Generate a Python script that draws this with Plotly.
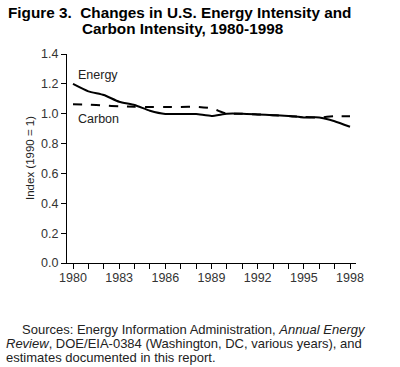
import plotly.graph_objects as go

years = list(range(1980, 1999))
energy = [1.20, 1.15, 1.125, 1.08, 1.058, 1.02, 0.998, 0.998, 0.998, 0.985, 1.0,
          1.0, 0.995, 0.99, 0.985, 0.975, 0.975, 0.95, 0.913]
carbon = [1.063, 1.06, 1.055, 1.05, 1.047, 1.045, 1.045, 1.045, 1.047, 1.036, 1.0,
          1.0, 0.995, 0.99, 0.985, 0.978, 0.975, 0.983, 0.983]
xtick_vals = [1980, 1983, 1986, 1989, 1992, 1995, 1998]
ytick_vals = [0.0, 0.2, 0.4, 0.6, 0.8, 1.0, 1.2, 1.4]

W, H = 400, 367
L, T = 67, 54
R = W - 356
B = H - 263
pw, ph = W - L - R, H - T - B

def px(x):
    return (x - L) / pw

def py(y):
    return (H - B - y) / ph

FONT = "Liberation Sans, Arial, sans-serif"

fig = go.Figure()
fig.add_trace(go.Scatter(x=years, y=energy, mode="lines", name="Energy",
                         line=dict(color="black", width=2, shape="spline", smoothing=0.5)))
fig.add_trace(go.Scatter(x=years, y=carbon, mode="lines", name="Carbon",
                         line=dict(color="black", width=2, dash="dash", shape="spline", smoothing=0.5)))

ann = []
ann.append(dict(x=1980.2, y=1.26, xref="x", yref="y", text="Energy", showarrow=False,
                xanchor="left", yanchor="middle", font=dict(size=12.5, color="#222", family=FONT)))
ann.append(dict(x=1980.2, y=0.962, xref="x", yref="y", text="Carbon", showarrow=False,
                xanchor="left", yanchor="middle", font=dict(size=12.5, color="#222", family=FONT)))
ann.append(dict(x=px(6), y=py(12.5), xref="paper", yref="paper",
                text="<b>Figure 3.  Changes in U.S. Energy Intensity and</b>", showarrow=False,
                xanchor="left", yanchor="middle", font=dict(size=15.3, color="black", family=FONT)))
ann.append(dict(x=px(80), y=py(28.5), xref="paper", yref="paper",
                text="<b>Carbon Intensity, 1980-1998</b>", showarrow=False,
                xanchor="left", yanchor="middle", font=dict(size=15.3, color="black", family=FONT)))
ann.append(dict(x=px(30), y=py(158), xref="paper", yref="paper", text="Index (1990 = 1)",
                textangle=-90, showarrow=False, xanchor="center", yanchor="middle",
                font=dict(size=11.5, color="#222", family=FONT)))
src_lines = [
    (20, 329, "Sources: Energy Information Administration, <i>Annual Energy</i>"),
    (4, 343, "<i>Review</i>, DOE/EIA-0384 (Washington, DC, various years), and"),
    (4, 357, "estimates documented in this report."),
]
for x0, y0, t in src_lines:
    ann.append(dict(x=px(x0), y=py(y0), xref="paper", yref="paper", text=t, showarrow=False,
                    xanchor="left", yanchor="middle", font=dict(size=13, color="#222", family=FONT)))

fig.update_layout(
    width=W, height=H, margin=dict(l=L, r=R, t=T, b=B),
    paper_bgcolor="white", plot_bgcolor="white", showlegend=False,
    annotations=ann,
    xaxis=dict(range=[1979.61, 1998.39], showgrid=False, zeroline=False,
               showline=True, linecolor="black", linewidth=1,
               tickmode="array", tickvals=xtick_vals, ticktext=[str(v) for v in xtick_vals],
               ticks="", ticklabelstandoff=3, tickfont=dict(size=12.5, color="#333", family=FONT),
               minor=dict(tickmode="array", tickvals=years, ticks="outside", ticklen=5,
                          tickcolor="black", tickwidth=1, showgrid=False)),
    yaxis=dict(range=[0, 1.4], showgrid=False, zeroline=False,
               showline=True, linecolor="black", linewidth=1,
               tickmode="array", tickvals=ytick_vals, ticktext=["%.1f" % v for v in ytick_vals],
               ticks="outside", ticklen=5, tickcolor="black",
               tickfont=dict(size=12.5, color="#333", family=FONT)),
)
fig.write_html("out.html", config={"displayModeBar": False},
               post_script="document.body.style.margin='0';document.body.style.overflow='hidden';")
